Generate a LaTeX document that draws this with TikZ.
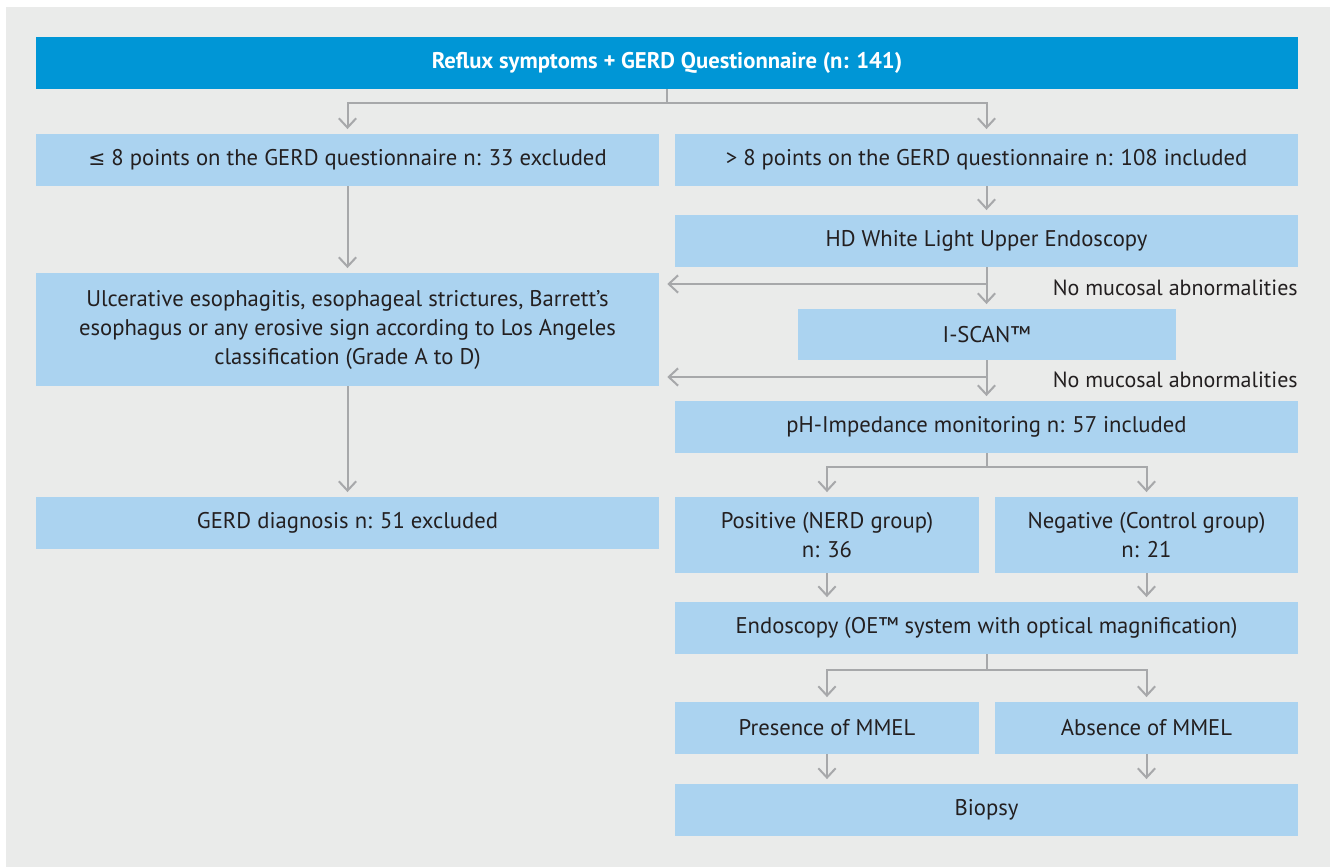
\documentclass[tikz,border=0pt]{standalone}
\usepackage{fontspec}
\setmainfont{PT Sans}
\newfontfamily\symfont{DejaVu Sans}[Scale=0.9]
\usetikzlibrary{arrows.meta,calc}
\definecolor{bg}{HTML}{EAEBEA}
\definecolor{dblue}{HTML}{0096D6}
\definecolor{lblue}{HTML}{ABD3F0}
\definecolor{lgray}{HTML}{A7A8AA}
\definecolor{txt}{HTML}{231F20}
\tikzset{
  sz/.style 2 args={minimum width=#1*0.75pt, minimum height=#2*0.75pt},
  lbox/.style={fill=lblue, inner sep=0pt, text=txt, align=center,
     font=\fontsize{17pt}{21.75pt}\selectfont},
  tbox/.style={fill=dblue, inner sep=0pt, text=white, align=center,
     font=\fontsize{17pt}{21.75pt}\selectfont\bfseries},
  lbl/.style={inner sep=0pt, text=txt, font=\fontsize{16.5pt}{21.75pt}\selectfont},
  arr/.style={draw=lgray, line width=1.5pt,
     -{Straight Barb[length=7pt, width=13pt, line width=1.5pt]},
     shorten >=3.5pt},
  harr/.style={arr, shorten >=6pt}
}
\begin{document}
\begin{tikzpicture}[x=0.75pt, y=-0.75pt]
\useasboundingbox (0,0) rectangle (1332,867);
\fill[white] (0,0) rectangle (1332,867);
\fill[bg] (6,7) rectangle (1330,867);

\node[tbox, sz={1262}{52}] (top) at (667,63) {Reflux symptoms + GERD Questionnaire (n: 141)};
\node[lbox, sz={623}{52}] (L1) at (347.5,160) {{\symfont ≤} 8 points on the GERD questionnaire n: 33 excluded};
\node[lbox, sz={623}{52}] (R1) at (986.5,160) {> 8 points on the GERD questionnaire n: 108 included};
\node[lbox, sz={623}{52}] (R2) at (986.5,241) {HD White Light Upper Endoscopy};
\node[lbox, sz={623}{113}] (L2) at (347.5,329.5) {Ulcerative esophagitis, esophageal strictures, Barrett’s\\esophagus or any erosive sign according to Los Angeles\\classification (Grade A to D)};
\node[lbox, sz={378}{51}] (iscan) at (986.5,334.5) {I-SCAN™};
\node[lbox, sz={623}{52}] (pH) at (986.5,427) {pH-Impedance monitoring n: 57 included};
\node[lbox, sz={623}{52}] (L3) at (347.5,523) {GERD diagnosis n: 51 excluded};
\node[lbox, sz={304}{76}] (pos) at (827,535) {Positive (NERD group)\\n: 36};
\node[lbox, sz={303}{76}] (neg) at (1146.5,535) {Negative (Control group)\\n: 21};
\node[lbox, sz={623}{52}] (endo) at (986.5,628) {Endoscopy (OE™ system with optical magnification)};
\node[lbox, sz={304}{52}] (pres) at (827,728) {Presence of MMEL};
\node[lbox, sz={303}{52}] (abs) at (1146.5,728) {Absence of MMEL};
\node[lbox, sz={623}{52}] (bio) at (986.5,810) {Biopsy};

\node[lbl, anchor=east] (nm1) at (1298,288) {No mucosal abnormalities};
\node[lbl, anchor=east] (nm2) at (1298,380) {No mucosal abnormalities};

\coordinate (j1) at (986.5,284);
\coordinate (j2) at (986.5,377);

\draw[arr] (top.south) -- ++(0,14) -| (L1.north);
\draw[arr] (top.south) -- ++(0,14) -| (R1.north);
\draw[arr] (R1.south) -- (R2.north);
\draw[arr] (R2.south) -- (iscan.north);
\draw[harr] (j1) -- (j1 -| L2.east);
\draw[arr] (iscan.south) -- (pH.north);
\draw[harr] (j2) -- (j2 -| L2.east);
\draw[arr] (L1.south) -- (L2.north);
\draw[arr] (L2.south) -- (L3.north);
\draw[arr] (pH.south) -- ++(0,14) -| (pos.north);
\draw[arr] (pH.south) -- ++(0,14) -| (neg.north);
\draw[arr] (pos.south) -- (pos.south |- endo.north);
\draw[arr] (neg.south) -- (neg.south |- endo.north);
\draw[arr] (endo.south) -- ++(0,16) -| (pres.north);
\draw[arr] (endo.south) -- ++(0,16) -| (abs.north);
\draw[arr] (pres.south) -- (pres.south |- bio.north);
\draw[arr] (abs.south) -- (abs.south |- bio.north);
\end{tikzpicture}
\end{document}
